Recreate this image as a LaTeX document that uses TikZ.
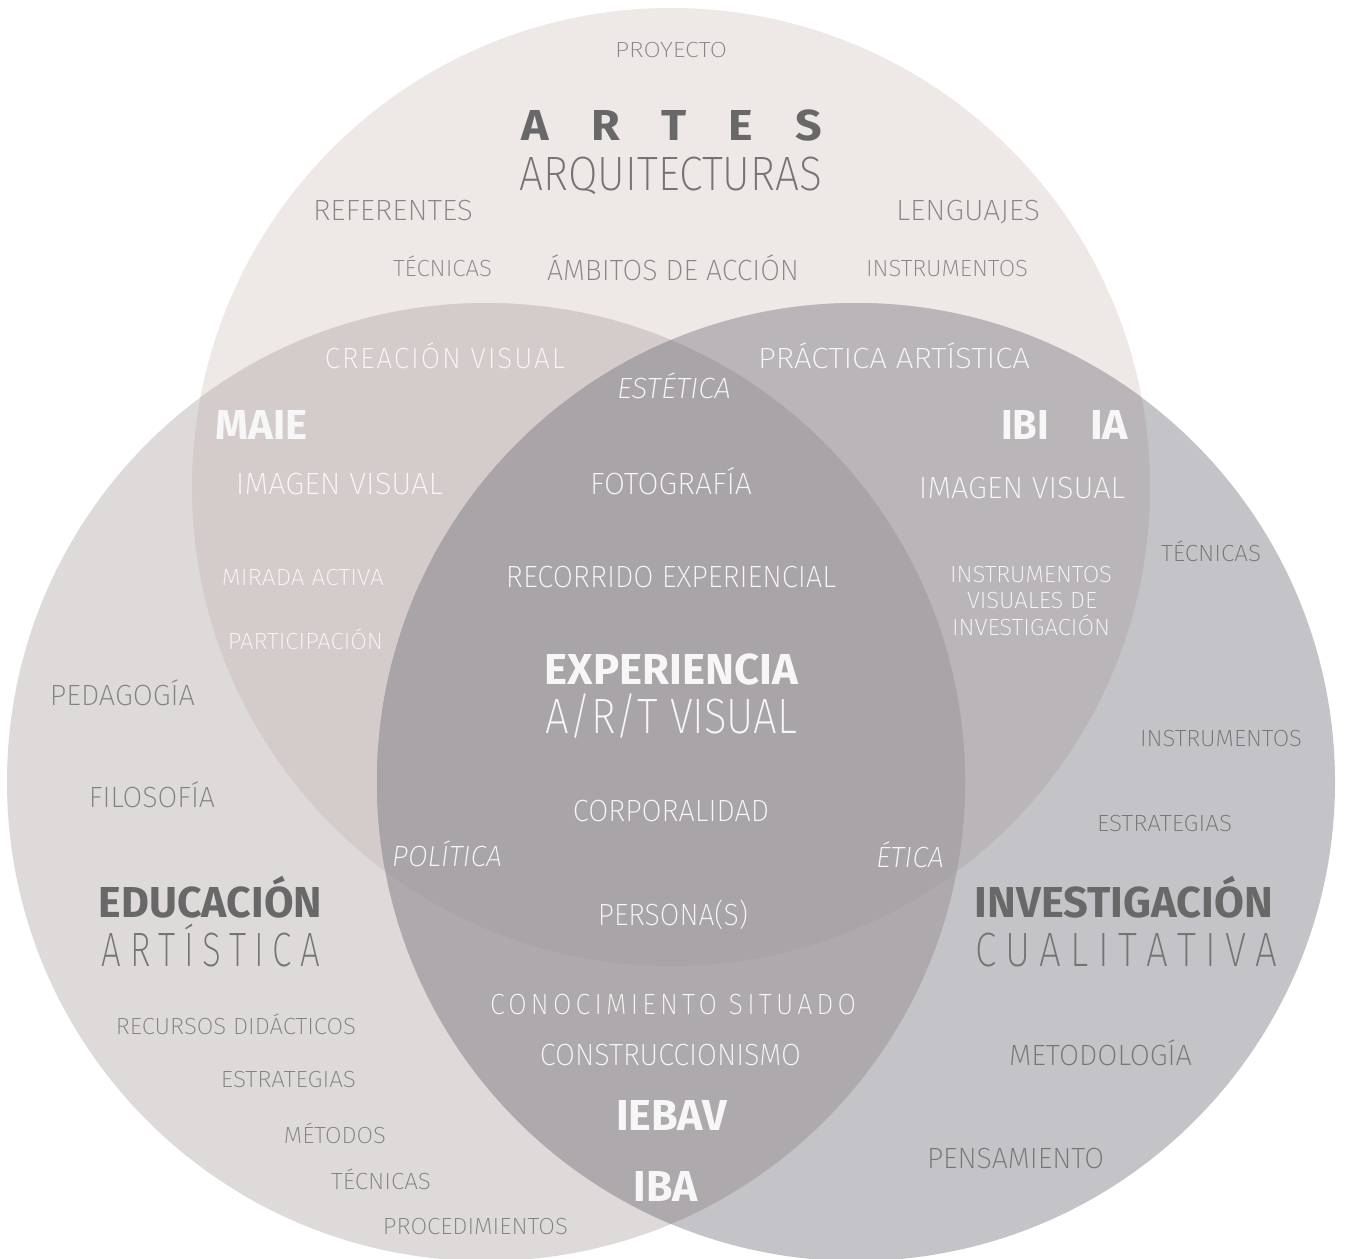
\documentclass[tikz,border=0pt]{standalone}
\usepackage{fontspec}
\usepackage{graphicx}
% light, extra-light, italic and bold faces, with fall-backs
\IfFontExistsTF{Fira Sans ExtraLight}{%
  \newfontfamily\FThin{Fira Sans ExtraLight}
  \newfontfamily\FLight{Fira Sans ExtraLight}
  \newfontfamily\FLightWide{Fira Sans ExtraLight}[LetterSpace=16]
  \newfontfamily\FLightSemi{Fira Sans ExtraLight}[LetterSpace=7]
}{%
  \IfFontExistsTF{Fira Sans Light}{%
    \newfontfamily\FThin{Fira Sans Light}
    \newfontfamily\FLight{Fira Sans Light}
    \newfontfamily\FLightWide{Fira Sans Light}[LetterSpace=16]
    \newfontfamily\FLightSemi{Fira Sans Light}[LetterSpace=7]
  }{%
    \newfontfamily\FThin{Fira Sans}
    \newfontfamily\FLight{Fira Sans}
    \newfontfamily\FLightWide{Fira Sans}[LetterSpace=16]
    \newfontfamily\FLightSemi{Fira Sans}[LetterSpace=7]
  }
}
\IfFontExistsTF{Fira Sans ExtraLight Italic}{%
  \newfontfamily\FItal{Fira Sans ExtraLight Italic}
}{%
  \IfFontExistsTF{Fira Sans Light Italic}{%
    \newfontfamily\FItal{Fira Sans Light Italic}
  }{%
    \newfontfamily\FItal{Fira Sans}[FakeSlant=0.2]
  }
}
\IfFontExistsTF{Fira Sans Bold}{%
  \newfontfamily\FBold{Fira Sans Bold}
}{%
  \newfontfamily\FBoldBase{Fira Sans}
  \newcommand\FBold{\FBoldBase\bfseries}
}

% fit a line of capitals to a given width and cap height
\newcommand\fitcap[3]{\resizebox{#1pt}{#2pt}{\raisebox{0pt}[\fontcharht\font`H][0pt]{#3}}}
\newcommand\gw{\hspace{0.9em}}
\newcommand\gn{\hspace{0.24em}}

\definecolor{cT}{HTML}{EEE8E6}
\definecolor{cL}{HTML}{DEDAD9}
\definecolor{cR}{HTML}{C4C3C7}
\definecolor{cTL}{HTML}{D4CCCB}
\definecolor{cTR}{HTML}{B9B5B8}
\definecolor{cLR}{HTML}{AEA9AC}
\definecolor{cTLR}{HTML}{A9A4A7}
\definecolor{cDark}{HTML}{686868}
\definecolor{cHead}{HTML}{747474}
\definecolor{cLabT}{HTML}{878787}
\definecolor{cLabL}{HTML}{828282}
\definecolor{cLabR}{HTML}{767676}
\definecolor{cWhite}{HTML}{F8F7F7}

\begin{document}
\begin{tikzpicture}[x=1pt,y=-1pt,
  tx/.style={anchor=base, inner sep=0pt, outer sep=0pt},
  lblT/.style={tx, font=\FLight, text=cLabT},
  lblL/.style={tx, font=\FLight, text=cLabL},
  lblR/.style={tx, font=\FLight, text=cLabR},
  headB/.style={tx, font=\FBold, text=cDark},
  headT/.style={tx, font=\FThin, text=cHead},
  wlbl/.style={tx, font=\FLight, text=cWhite},
  wthin/.style={tx, font=\FThin, text=cWhite},
  wital/.style={tx, font=\FItal, text=cWhite},
  wbold/.style={tx, font=\FBold, text=cWhite},
  disc/.style={radius=479pt}]
\useasboundingbox (0,0) rectangle (1346,1258);
\clip (0,0) rectangle (1346,1258);

\coordinate (T) at (671,487);
\coordinate (L) at (486,782);
\coordinate (R) at (856,782);

% the three sets
\fill[cT] (T) circle[disc];
\fill[cL] (L) circle[disc];
\fill[cR] (R) circle[disc];
% pairwise overlaps
\begin{scope}
  \clip (T) circle[disc];
  \fill[cTL] (L) circle[disc];
  \fill[cTR] (R) circle[disc];
\end{scope}
\begin{scope}
  \clip (L) circle[disc];
  \fill[cLR] (R) circle[disc];
  \clip (R) circle[disc];
  \fill[cTLR] (T) circle[disc];
\end{scope}

% ARTES
\node[lblT] (proyecto) at (671,57) {\fitcap{112}{15}{PROYECTO}};
\node[headB] (artes) at (672,140) {\fitcap{300}{30}{A\gw R\gw T\gw E\gw S}};
\node[headT] (arq) at (671,190) {\fitcap{302}{33}{ARQUITECTURAS}};
\node[lblT] (referentes) at (393,220) {\fitcap{160}{20}{REFERENTES}};
\node[lblT] (lenguajes) at (968,220) {\fitcap{144}{20}{LENGUAJES}};
\node[lblT] (tecT) at (442.5,276) {\fitcap{99}{16}{TÉCNICAS}};
\node[lblT] (ambitos) at (673,280) {\fitcap{252}{20}{ÁMBITOS DE ACCIÓN}};
\node[lblT] (instrT) at (947,276) {\fitcap{162}{16}{INSTRUMENTOS}};

% ARTES and EDUCACION
\node[wlbl, font=\FLightSemi] (creacion) at (445,368) {\fitcap{240}{20}{CREACIÓN VISUAL}};
\node[wbold] (maie) at (262,439) {\fitcap{92}{29}{MAIE}};
\node[wlbl] (imgL) at (339.5,494) {\fitcap{207}{21}{IMAGEN VISUAL}};
\node[wlbl] (mirada) at (303,585) {\fitcap{162}{16}{MIRADA ACTIVA}};
\node[wlbl] (partic) at (305.5,649) {\fitcap{155}{16}{PARTICIPACIÓN}};

% ARTES and INVESTIGACION
\node[wlbl] (practica) at (894,368) {\fitcap{272}{20}{PRÁCTICA ARTÍSTICA}};
\node[wbold] (ibi) at (1025,439) {\fitcap{48}{29}{IBI}};
\node[wbold] (ia) at (1109,439) {\fitcap{38}{29}{IA}};
\node[wlbl] (imgR) at (1022,498) {\fitcap{206}{21}{IMAGEN VISUAL}};
\node[wlbl] (ivi1) at (1031,582) {\fitcap{162}{16}{INSTRUMENTOS}};
\node[wlbl] (ivi2) at (1032,608) {\fitcap{130}{16}{VISUALES DE}};
\node[wlbl] (ivi3) at (1031,635) {\fitcap{158}{16}{INVESTIGACIÓN}};

% centre
\node[wital] (estetica) at (674,398) {\fitcap{114}{20}{ESTÉTICA}};
\node[wlbl] (foto) at (671,494) {\fitcap{162}{21}{FOTOGRAFÍA}};
\node[wlbl] (recorrido) at (671,587) {\fitcap{330}{21}{RECORRIDO EXPERIENCIAL}};
\node[wbold] (experiencia) at (671.5,684) {\fitcap{253}{30}{EXPERIENCIA}};
\node[wthin] (artvisual) at (671.5,733) {\fitcap{251}{34}{A/R/T VISUAL}};
\node[wlbl] (corp) at (671,821) {\fitcap{196}{21}{CORPORALIDAD}};
\node[wital] (politica) at (447,866) {\fitcap{110}{20}{POLÍTICA}};
\node[wital] (etica) at (910,867) {\fitcap{68}{20}{ÉTICA}};
\node[wlbl] (persona) at (673,925) {\fitcap{150}{21}{PERSONA(S)}};

% EDUCACION and INVESTIGACION
\node[wlbl, font=\FLightWide] (conoc) at (673,1014) {\fitcap{366}{20}{CONOCIMIENTO SITUADO}};
\node[wlbl] (constr) at (670.5,1065) {\fitcap{261}{21}{CONSTRUCCIONISMO}};
\node[wbold] (iebav) at (671.5,1130) {\fitcap{111}{30}{IEBAV}};
\node[wbold] (iba) at (666,1201) {\fitcap{64}{30}{IBA}};

% EDUCACION
\node[lblL] (pedagogia) at (122.5,705) {\fitcap{145}{20}{PEDAGOGÍA}};
\node[lblL] (filosofia) at (152,807) {\fitcap{126}{20}{FILOSOFÍA}};
\node[headB] (educacion) at (210.5,917) {\fitcap{223}{30}{EDUCACIÓN}};
\node[headT] (artistica) at (211,966) {\fitcap{218}{33}{A\gn R\gn T\gn Í\gn S\gn T\gn I\gn C\gn A}};
\node[lblL] (recursos) at (236,1034) {\fitcap{240}{16}{RECURSOS DIDÁCTICOS}};
\node[lblL] (estrL) at (288.5,1087) {\fitcap{135}{16}{ESTRATEGIAS}};
\node[lblL] (metodos) at (335,1143) {\fitcap{102}{16}{MÉTODOS}};
\node[lblL] (tecL) at (381,1189) {\fitcap{100}{16}{TÉCNICAS}};
\node[lblL] (proc) at (475.5,1234) {\fitcap{185}{16}{PROCEDIMIENTOS}};

% INVESTIGACION
\node[lblR] (tecR) at (1211,561) {\fitcap{100}{16}{TÉCNICAS}};
\node[lblR] (instrR) at (1221,746) {\fitcap{162}{16}{INSTRUMENTOS}};
\node[lblR] (estrR) at (1164.5,831) {\fitcap{135}{16}{ESTRATEGIAS}};
\node[headB] (investigacion) at (1124,917) {\fitcap{298}{30}{INVESTIGACIÓN}};
\node[headT] (cualitativa) at (1126,966) {\fitcap{302}{33}{C\gn U\gn A\gn L\gn I\gn T\gn A\gn T\gn I\gn V\gn A}};
\node[lblR] (metodologia) at (1100.5,1065) {\fitcap{183}{20}{METODOLOGÍA}};
\node[lblR] (pensamiento) at (1015.5,1168) {\fitcap{177}{20}{PENSAMIENTO}};
\end{tikzpicture}
\end{document}
